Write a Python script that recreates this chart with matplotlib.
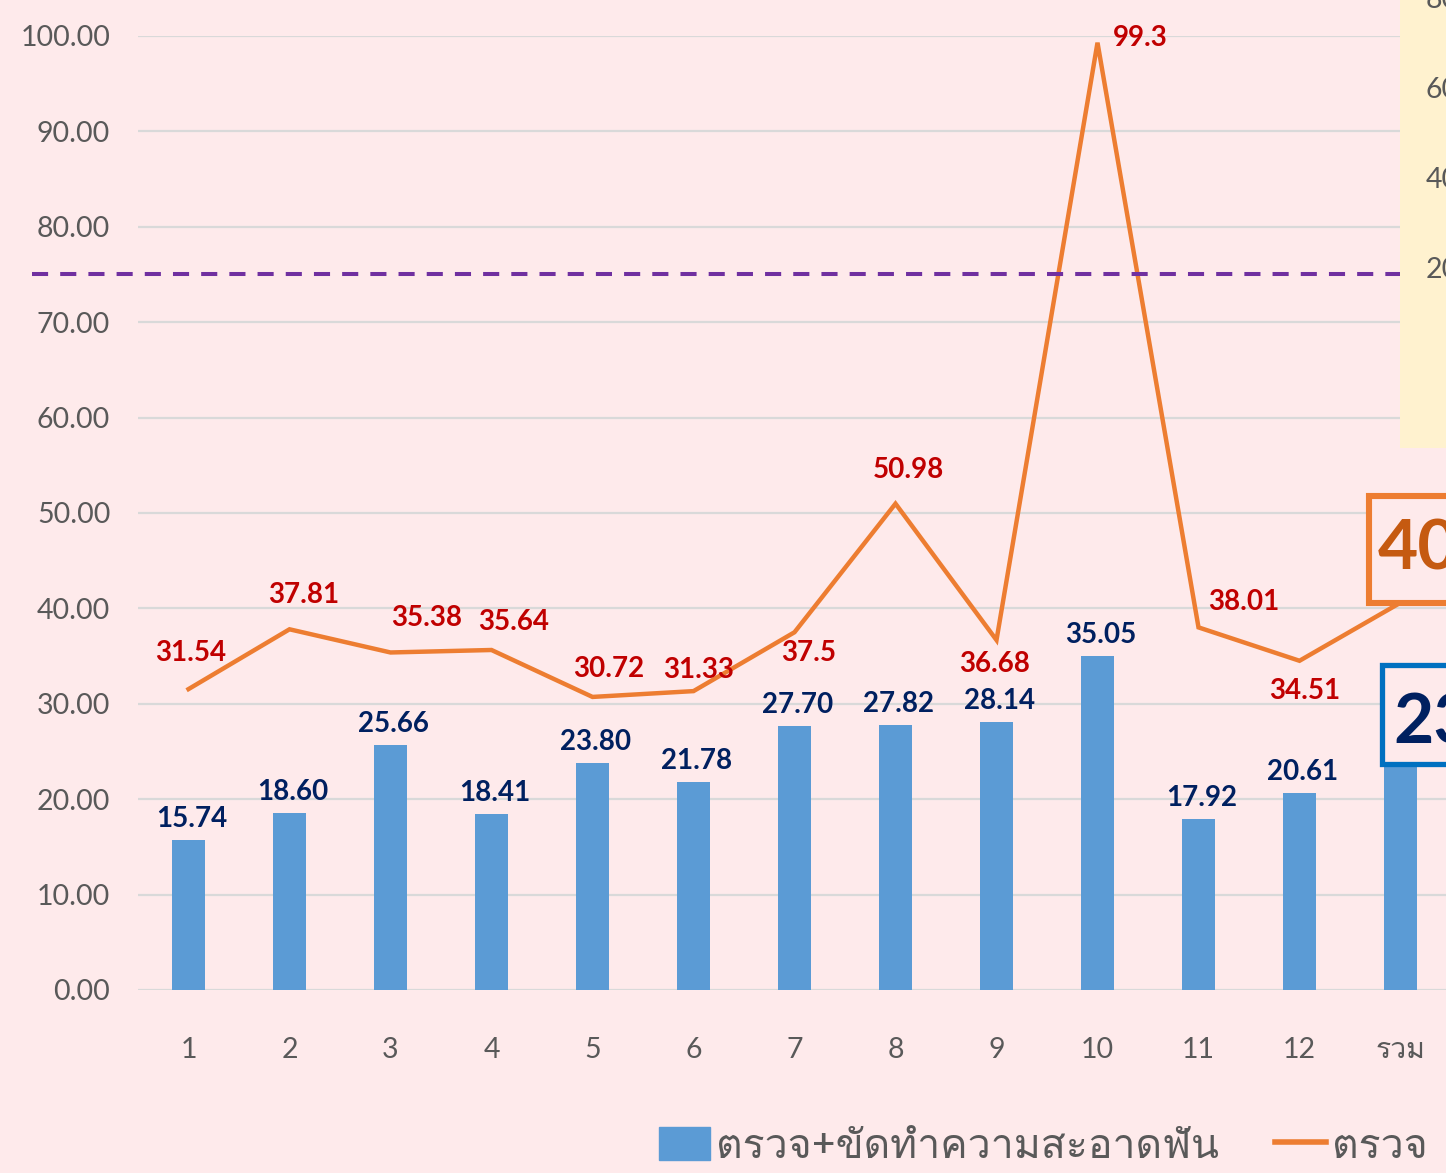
import matplotlib
matplotlib.use("Agg")
import matplotlib.pyplot as plt
from matplotlib import font_manager
from matplotlib.ft2font import FT2Font
from matplotlib.lines import Line2D
from matplotlib.patches import Patch, Rectangle
from matplotlib.transforms import IdentityTransform, ScaledTranslation

# ข้อมูล
categories = ["1", "2", "3", "4", "5", "6", "7", "8", "9", "10", "11", "12", "รวม"]
bar_values = [15.74, 18.60, 25.66, 18.41, 23.80, 21.78, 27.70, 27.82, 28.14, 35.05, 17.92, 20.61, 23.44]
line_values = [31.54, 37.81, 35.38, 35.64, 30.72, 31.33, 37.5, 50.98, 36.68, 99.3, 38.01, 34.51, 40.6]
line_labels = ["31.54", "37.81", "35.38", "35.64", "30.72", "31.33", "37.5", "50.98", "36.68", "99.3", "38.01", "34.51"]
target = 75
side_ticks = [80, 60, 40, 20]
bar_name = "ตรวจ+ขัดทำความสะอาดฟัน"
line_name = "ตรวจ"

# หา font ที่มีอักษรไทย
def thai_font():
    for f in font_manager.fontManager.ttflist:
        try:
            if 0x0E15 in FT2Font(f.fname).get_charmap():
                return f.name
        except Exception:
            pass
    return "DejaVu Sans"

thai = thai_font()
plt.rcParams["font.family"] = ["Lato", thai, "DejaVu Sans"]

bg = "#FEEAEB"
fig = plt.figure(figsize=(14.46, 11.73), dpi=100, facecolor=bg)
ax = fig.add_axes([138 / 1446, 1 - 990 / 1173, 1313 / 1446, 954 / 1173], facecolor=bg)

x = list(range(len(categories)))
ax.bar(x, bar_values, width=0.32, color="#5B9BD5", zorder=2)
ax.plot(x, line_values, color="#ED7D31", lw=3.2, zorder=3, solid_joinstyle="miter")

ax.set_xlim(-0.5, 12.5)
ax.set_ylim(0, 100)
ax.set_yticks(range(0, 101, 10))
ax.set_yticklabels([f"{v:.2f}" for v in range(0, 101, 10)])
ax.set_xticks(x)
ax.set_xticklabels(categories)
ax.tick_params(length=0, labelsize=20.5, labelcolor="#595959")
ax.tick_params(axis="y", pad=20)
ax.tick_params(axis="x", pad=34)
ax.grid(axis="y", color="#D9D9D9", lw=1.6, zorder=0)
for s in ax.spines.values():
    s.set_visible(False)

# เส้นเป้าหมาย
ax.plot([-1.55, 12.5], [target, target], ls=(0, (4, 3)), color="#7030A0", lw=2.9,
        clip_on=False, zorder=4)

# ป้ายค่าแท่ง
for i in range(12):
    ax.annotate(f"{bar_values[i]:.2f}", (x[i], bar_values[i]), xytext=(3, 21),
                textcoords="offset pixels", ha="center", va="center",
                fontsize=20, fontweight="bold", color="#002060", zorder=5)

# ป้ายค่าเส้น
line_offsets = [(2, 36), (14, 34), (36, 34), (22, 28), (16, 28), (5, 21), (14, -21),
                (13, 34), (-2, -24), (43, 5), (45, 25), (5, -30)]
for i in range(12):
    ax.annotate(line_labels[i], (x[i], line_values[i]), xytext=line_offsets[i],
                textcoords="offset pixels", ha="center", va="center",
                fontsize=20, fontweight="bold", color="#C00000", zorder=5)

# กล่องค่ารวม (หน่วยเป็นพิกเซลจากจุดข้อมูล)
def callout(xv, yv, text, tcolor, ecolor, lw, box, toff):
    tr = IdentityTransform() + ScaledTranslation(xv, yv, ax.transData)
    ax.add_patch(Rectangle(box[:2], box[2], box[3], transform=tr, fc=bg, ec=ecolor,
                           lw=lw, clip_on=False, zorder=6, joinstyle="miter"))
    ax.annotate(text, (xv, yv), xytext=toff, textcoords="offset pixels",
                ha="left", va="baseline", fontsize=50, fontweight="bold",
                color=tcolor, zorder=7, annotation_clip=False)

callout(x[12], line_values[12], f"{line_values[12]:.2f}", "#C55A11", "#ED7D31", 4.4,
        (-32, 0, 250, 107), (-23, 33))
callout(x[12], bar_values[12], f"{bar_values[12]:.2f}", "#002060", "#0070C0", 3.8,
        (-18.5, 2, 250, 99), (-7, 23))

# กรอบสีเหลืองด้านขวาบน
side = fig.add_axes([1400 / 1446, 1 - 448 / 1173, 46 / 1446, 448 / 1173], facecolor="#FFF2CF")
side.set_xlim(0, 1)
side.set_ylim(-19.6, 80)
for t in side_ticks:
    side.text(0.55, t, str(t), fontsize=20.5, color="#595959", ha="left", va="center")
side.set_xticks([])
side.set_yticks([])
for s in side.spines.values():
    s.set_visible(False)

# คำอธิบาย
handles = [Patch(color="#5B9BD5"), Line2D([], [], color="#ED7D31", lw=4)]
fig.legend(handles, [bar_name, line_name], loc="lower left",
           bbox_to_anchor=(622 / 1446, -0.026), frameon=False, ncol=2,
           prop={"family": [thai, "DejaVu Sans"], "size": 29.5}, labelcolor="#595959",
           handlelength=1.25, handleheight=0.85, handletextpad=0.15, columnspacing=1.35)

fig.savefig("out.png", dpi=100, facecolor=bg)
